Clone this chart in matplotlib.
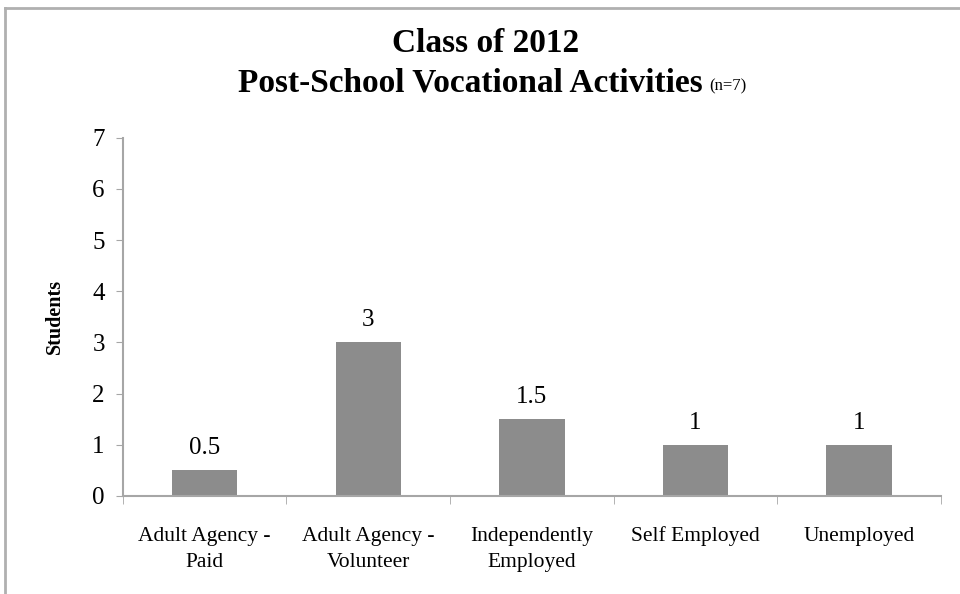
import matplotlib
matplotlib.use("Agg")
import matplotlib.pyplot as plt
from matplotlib.lines import Line2D

categories = ["Adult Agency -\nPaid", "Adult Agency -\nVolunteer", "Independently\nEmployed",
              "Self Employed", "Unemployed"]
students = [0.5, 3, 1.5, 1, 1]
value_labels = ["0.5", "3", "1.5", "1", "1"]
y_ticks = [0, 1, 2, 3, 4, 5, 6, 7]

plt.rcParams["font.family"] = ["Liberation Serif", "DejaVu Serif"]

AXIS_GREY = "#a6a6a6"
BAR_GREY = "#8c8c8c"

fig = plt.figure(figsize=(9.6, 5.94), dpi=100)
ax = fig.add_axes([0.128, 0.165, 0.852, 0.603])

x = list(range(len(categories)))
ax.bar(x, students, width=0.4, color=BAR_GREY, zorder=2)
for xi, v, lab in zip(x, students, value_labels):
    ax.text(xi, v + 0.22, lab, ha="center", va="bottom", fontsize=18)

ax.set_xlim(-0.5, len(categories) - 0.5)
ax.set_ylim(0, 7)
ax.set_yticks(y_ticks)
ax.tick_params(axis="y", labelsize=18, length=5, color=AXIS_GREY, pad=8)

# category names centred, tick marks on the boundaries between them
ax.set_xticks(x)
ax.set_xticklabels(categories, fontsize=15.5, linespacing=1.55)
ax.tick_params(axis="x", which="major", length=0, pad=22)
ax.set_xticks([i - 0.5 for i in range(len(categories) + 1)], minor=True)
ax.tick_params(axis="x", which="minor", length=6, color=AXIS_GREY)

for side in ("top", "right"):
    ax.spines[side].set_visible(False)
for side in ("left", "bottom"):
    ax.spines[side].set_color(AXIS_GREY)
    ax.spines[side].set_linewidth(1.5)

ax.set_ylabel("Students", fontsize=14.5, fontweight="bold", va="center")
ax.yaxis.set_label_coords(-0.083, 0.5)

fig.text(486 / 960, 1 - 44 / 594, "Class of 2012", ha="center", va="center",
         fontsize=24, fontweight="bold")
fig.text(703 / 960, 1 - 83 / 594, "Post-School Vocational Activities", ha="right",
         va="center", fontsize=24, fontweight="bold")
fig.text(709 / 960, 1 - 86 / 594, "(n=7)", ha="left", va="center", fontsize=12)

# chart border along the top and left edges
fig.add_artist(Line2D([5 / 960, 5 / 960], [0, 1 - 8 / 594], color="#b0b0b0", lw=2))
fig.add_artist(Line2D([5 / 960, 1], [1 - 8 / 594, 1 - 8 / 594], color="#b0b0b0", lw=2))

fig.savefig("out.png", dpi=100)
